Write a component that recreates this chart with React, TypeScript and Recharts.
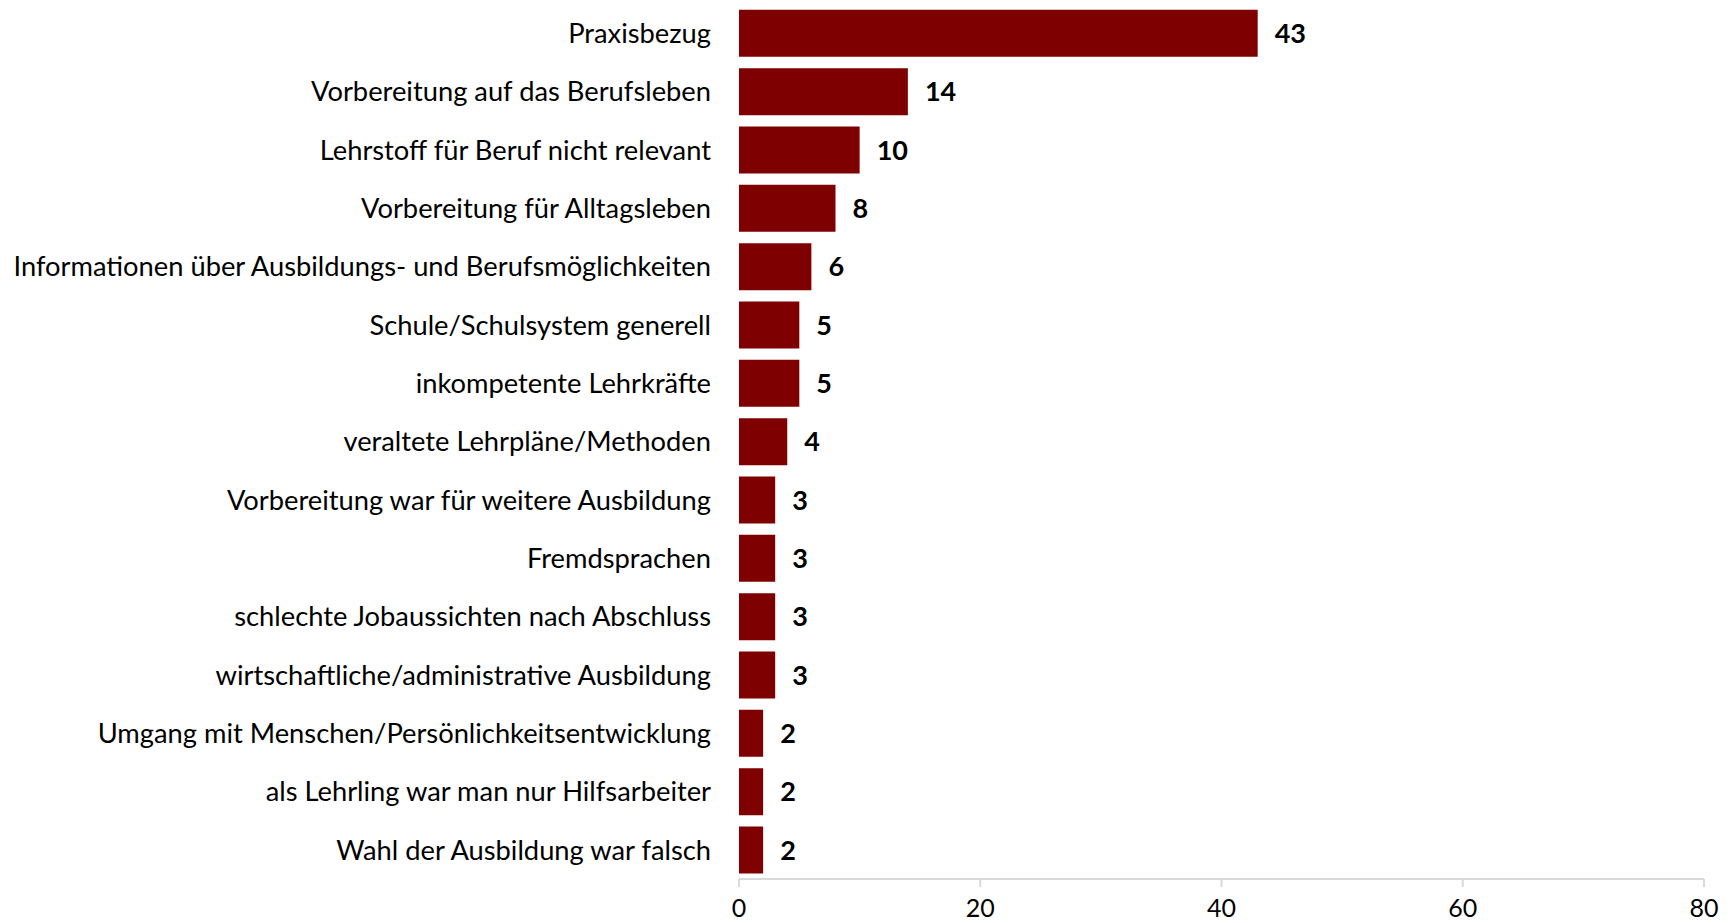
import React from "react";
import { BarChart, Bar, XAxis, YAxis, LabelList } from "recharts";

const categories = [
  "Praxisbezug",
  "Vorbereitung auf das Berufsleben",
  "Lehrstoff für Beruf nicht relevant",
  "Vorbereitung für Alltagsleben",
  "Informationen über Ausbildungs- und Berufsmöglichkeiten",
  "Schule/Schulsystem generell",
  "inkompetente Lehrkräfte",
  "veraltete Lehrpläne/Methoden",
  "Vorbereitung war für weitere Ausbildung",
  "Fremdsprachen",
  "schlechte Jobaussichten nach Abschluss",
  "wirtschaftliche/administrative Ausbildung",
  "Umgang mit Menschen/Persönlichkeitsentwicklung",
  "als Lehrling war man nur Hilfsarbeiter",
  "Wahl der Ausbildung war falsch",
];
const values = [43, 14, 10, 8, 6, 5, 5, 4, 3, 3, 3, 3, 2, 2, 2];
const xTicks = [0, 20, 40, 60, 80];

const data = categories.map((c, i) => ({ name: c, value: values[i] }));

const FONT = "Lato, 'Open Sans', sans-serif";

export default function App() {
  return (
    <div style={{ position: "absolute", left: 0, top: 0, background: "#fff" }}>
      <BarChart
        width={1733}
        height={923}
        data={data}
        layout="vertical"
        margin={{ top: 4, right: 29, bottom: 0, left: 0 }}
        barCategoryGap="10%"
      >
        <XAxis
          type="number"
          domain={[0, 80]}
          ticks={xTicks}
          interval={0}
          height={44}
          axisLine={{ stroke: "#d9d9d9", strokeWidth: 2 }}
          tickLine={{ stroke: "#d9d9d9", strokeWidth: 2 }}
          tickSize={8}
          tickMargin={12}
          tick={{ fill: "#000", fontSize: 25, fontFamily: FONT }}
        />
        <YAxis
          type="category"
          dataKey="name"
          width={739}
          interval={0}
          axisLine={false}
          tickLine={false}
          tickSize={0}
          tickMargin={28}
          tick={{ fill: "#000", fontSize: 27.3, fontFamily: FONT }}
        />
        <Bar dataKey="value" fill="#7f0000" isAnimationActive={false}>
          <LabelList
            dataKey="value"
            position="right"
            offset={17}
            style={{ fill: "#000", fontSize: 27, fontWeight: 700, fontFamily: FONT }}
          />
        </Bar>
      </BarChart>
    </div>
  );
}
